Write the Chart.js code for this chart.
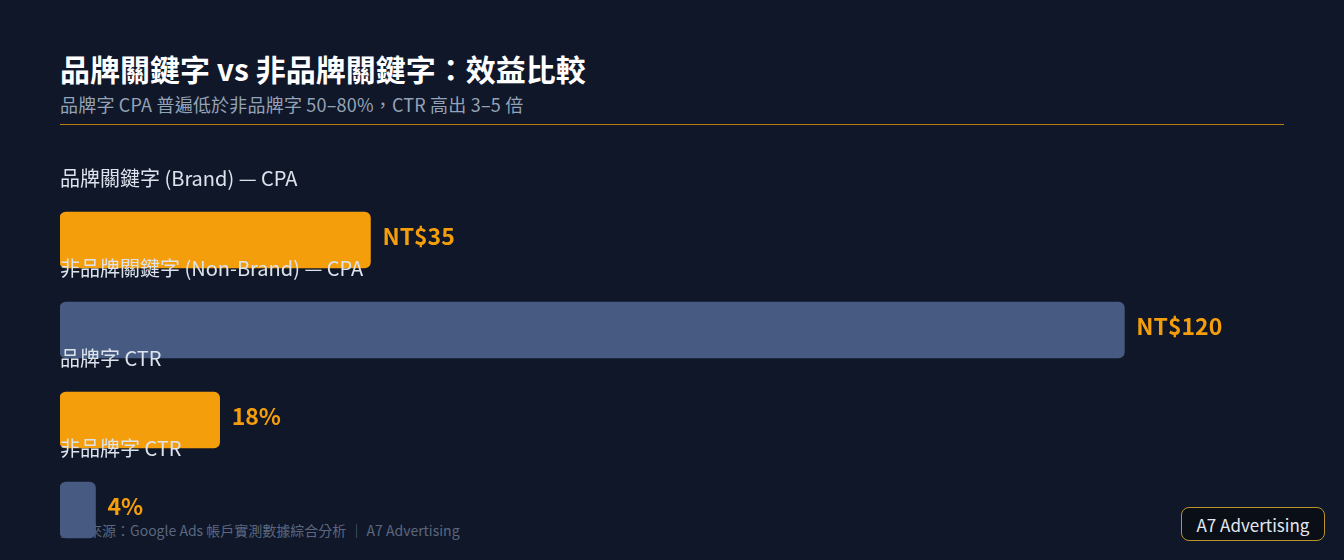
<!DOCTYPE html>
<html lang="zh-Hant">
<head>
<meta charset="utf-8">
<title>品牌關鍵字 vs 非品牌關鍵字</title>
<script src="https://cdn.jsdelivr.net/npm/chart.js@4.4.1/dist/chart.umd.min.js"></script>
<style>
  html, body { margin: 0; padding: 0; }
  body {
    width: 1344px; height: 560px; overflow: hidden; position: relative;
    background: #0f1729;
    font-family: "Noto Sans CJK TC", "Noto Sans", sans-serif;
  }
  .title {
    position: absolute; left: 60px; top: 47px; margin: 0;
    font-size: 30px; font-weight: 700; color: #ffffff; line-height: 42px;
  }
  .subtitle {
    position: absolute; left: 60px; top: 91px; margin: 0;
    font-size: 18px; color: #94a3b8; line-height: 26px; letter-spacing: 0.2px;
  }
  .rule {
    position: absolute; left: 60px; top: 124px; width: 1224px; height: 1px;
    background: rgba(245, 158, 11, 0.75);
  }
  .footer {
    position: absolute; left: 60px; top: 520px;
    font-size: 14px; color: #5c677f; line-height: 20px;
  }
  .badge {
    position: absolute; left: 1181px; top: 507px; width: 142px; height: 32px;
    border: 1px solid #b8932e; border-radius: 8px; background: #0a0e17;
    color: #e2e8f0; font-size: 17px; line-height: 34px; text-align: center;
  }
  #wrap { position: absolute; left: 60px; top: 140px; width: 1224px; height: 415px; }
</style>
</head>
<body>
  <h1 class="title">品牌關鍵字 vs 非品牌關鍵字：效益比較</h1>
  <p class="subtitle">品牌字 CPA 普遍低於非品牌字 50–80%，CTR 高出 3–5 倍</p>
  <div class="rule"></div>
  <div class="footer">資料來源：Google Ads 帳戶實測數據綜合分析 ｜ A7 Advertising</div>
  <div id="wrap"><canvas id="kwChart"></canvas></div>
  <div class="badge">A7 Advertising</div>

<script>
// 資料
const categories = ['品牌關鍵字 (Brand) — CPA', '非品牌關鍵字 (Non-Brand) — CPA', '品牌字 CTR', '非品牌字 CTR'];
const values = [35, 120, 18, 4];
const valueLabels = ['NT$35', 'NT$120', '18%', '4%'];
const barColors = ['#f59e0b', '#475a82', '#f59e0b', '#475a82'];

// 類別標籤 + 數值標籤
const labelPlugin = {
  id: 'barLabels',
  afterDatasetsDraw(chart) {
    const ctx = chart.ctx;
    const meta = chart.getDatasetMeta(0);
    ctx.save();
    meta.data.forEach((bar, i) => {
      const h = bar.height;
      ctx.textBaseline = 'middle';
      ctx.textAlign = 'left';
      ctx.font = '20px "Noto Sans CJK TC", "Noto Sans", sans-serif';
      ctx.fillStyle = '#dde3ec';
      ctx.fillText(categories[i], chart.chartArea.left, bar.y - h / 2 - 34);

      ctx.font = 'bold 23px "Noto Sans CJK TC", "Noto Sans", sans-serif';
      ctx.fillStyle = '#f59e0b';
      ctx.fillText(valueLabels[i], bar.x + 12, bar.y - 4);
    });
    ctx.restore();
  }
};

new Chart(document.getElementById('kwChart').getContext('2d'), {
  type: 'bar',
  data: {
    labels: categories,
    datasets: [{
      data: values,
      backgroundColor: barColors,
      borderRadius: 6,
      borderSkipped: false,
      barThickness: 56
    }]
  },
  options: {
    indexAxis: 'y',
    responsive: true,
    maintainAspectRatio: false,
    animation: false,
    layout: { padding: { top: 55, left: 0, right: 0, bottom: 0 } },
    scales: {
      x: { display: false, min: 0, max: 138 },
      y: { display: false }
    },
    plugins: {
      legend: { display: false },
      tooltip: { enabled: false }
    }
  },
  plugins: [labelPlugin]
});
</script>
</body>
</html>
